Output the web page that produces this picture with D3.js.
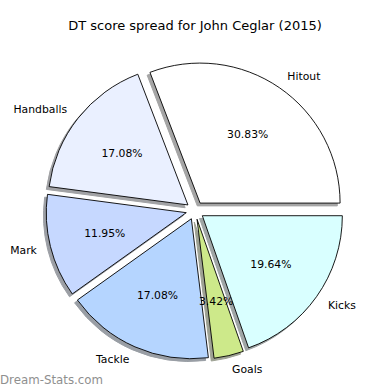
<!DOCTYPE html>
<html>
<head>
<meta charset="utf-8">
<script src="https://cdn.jsdelivr.net/npm/d3@7"></script>
<style>
  body { margin: 0; background: #fff; }
  svg { display: block; font-family: "DejaVu Sans", sans-serif; }
</style>
</head>
<body>
<div class="chart"></div>
<script>
// score categories, counter-clockwise from 3 o'clock (matplotlib style)
const categories = ["Hitout", "Handballs", "Mark", "Tackle", "Goals", "Kicks"];
const shares = [30.83, 17.08, 11.95, 17.08, 3.42, 19.64];
const colors = ["#ffffff", "#eaf0ff", "#c6d8ff", "#b5d5ff", "#cde98a", "#d9ffff"];

const w = 390;
const h = 390;
const cx = 195;
const cy = 210.5;
const radius = 140;
const explode = 9;
const shadowOff = 0.02 * radius;

const svg = d3
  .select(".chart")
  .append("svg")
  .attr("width", w)
  .attr("height", h);

svg
  .append("text")
  .attr("x", w / 2)
  .attr("y", 30)
  .attr("text-anchor", "middle")
  .attr("font-size", "13px")
  .text("DT score spread for John Ceglar (2015)");

const pie = d3
  .pie()
  .sort(null)
  .startAngle(Math.PI / 2)
  .endAngle(Math.PI / 2 - 2 * Math.PI);

const arcs = pie(shares);
const arc = d3.arc().innerRadius(0).outerRadius(radius);

// direction of a slice's bisector in screen coords
function dir(d) {
  const a = (d.startAngle + d.endAngle) / 2;
  return [Math.sin(a), -Math.cos(a)];
}

function shade(c) {
  const rgb = d3.rgb(c);
  return d3.rgb(rgb.r * 0.3, rgb.g * 0.3, rgb.b * 0.3).toString();
}

const g = svg.append("g").attr("transform", `translate(${cx},${cy})`);

// shadows first, below all wedges
g.selectAll("path.shadow")
  .data(arcs)
  .enter()
  .append("path")
  .attr("class", "shadow")
  .attr("d", arc)
  .attr("transform", (d) => {
    const [dx, dy] = dir(d);
    return `translate(${dx * explode - shadowOff},${dy * explode + shadowOff})`;
  })
  .attr("fill", (d, i) => shade(colors[i]))
  .attr("stroke", (d, i) => shade(colors[i]))
  .attr("stroke-width", 1)
  .attr("opacity", 0.5);

g.selectAll("path.wedge")
  .data(arcs)
  .enter()
  .append("path")
  .attr("class", "wedge")
  .attr("d", arc)
  .attr("transform", (d) => {
    const [dx, dy] = dir(d);
    return `translate(${dx * explode},${dy * explode})`;
  })
  .attr("fill", (d, i) => colors[i])
  .attr("stroke", "#000")
  .attr("stroke-width", 0.9)
  .attr("stroke-linejoin", "round");

// outer labels
g.selectAll("text.label")
  .data(arcs)
  .enter()
  .append("text")
  .attr("class", "label")
  .attr("x", (d) => dir(d)[0] * (explode + 1.1 * radius))
  .attr("y", (d) => dir(d)[1] * (explode + 1.1 * radius))
  .attr("dy", "0.35em")
  .attr("text-anchor", (d) => (dir(d)[0] > 0 ? "start" : "end"))
  .attr("font-size", "10.8px")
  .text((d, i) => categories[i]);

// percentages
g.selectAll("text.pct")
  .data(arcs)
  .enter()
  .append("text")
  .attr("class", "pct")
  .attr("x", (d) => dir(d)[0] * (explode + 0.6 * radius))
  .attr("y", (d) => dir(d)[1] * (explode + 0.6 * radius))
  .attr("dy", "0.35em")
  .attr("text-anchor", "middle")
  .attr("font-size", "10.8px")
  .text((d) => d.data.toFixed(2) + "%");

svg
  .append("text")
  .attr("x", 0)
  .attr("y", 384)
  .attr("font-size", "11.8px")
  .attr("fill", "#8f8f8f")
  .text("Dream-Stats.com");
</script>
</body>
</html>
